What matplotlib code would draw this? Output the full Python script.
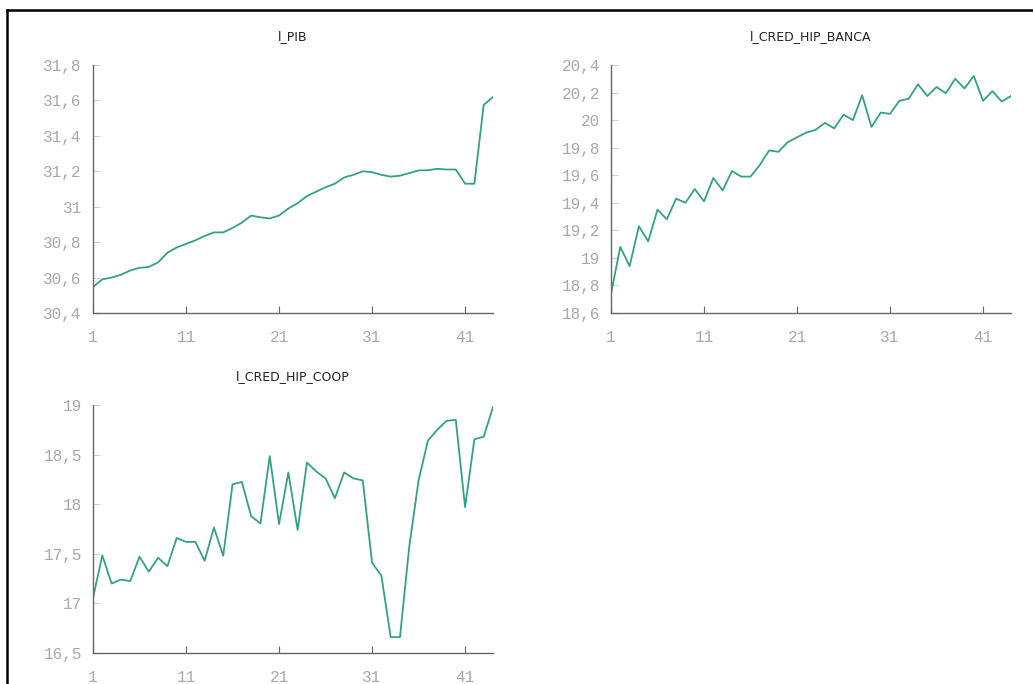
import numpy as np
import matplotlib.pyplot as plt
from matplotlib.lines import Line2D
from matplotlib.ticker import FuncFormatter

# datos (estimados del grafico)
periodos = list(range(1, 45))

l_pib = [30.547, 30.59, 30.60, 30.616, 30.64, 30.655, 30.66, 30.686, 30.74, 30.77,
         30.79, 30.81, 30.835, 30.855, 30.855, 30.88, 30.91, 30.95, 30.94, 30.934,
         30.95, 30.99, 31.02, 31.06, 31.085, 31.11, 31.13, 31.165, 31.18, 31.20,
         31.195, 31.18, 31.17, 31.175, 31.19, 31.205, 31.206, 31.214, 31.21, 31.21,
         31.13, 31.13, 31.575, 31.62]

l_cred_hip_banca = [18.74, 19.08, 18.94, 19.23, 19.12, 19.35, 19.28, 19.43, 19.40, 19.50,
                    19.41, 19.58, 19.49, 19.63, 19.59, 19.59, 19.675, 19.78, 19.77, 19.84,
                    19.875, 19.91, 19.93, 19.98, 19.94, 20.04, 20.00, 20.18, 19.95, 20.055,
                    20.045, 20.14, 20.155, 20.26, 20.175, 20.24, 20.195, 20.30, 20.23, 20.32,
                    20.14, 20.21, 20.135, 20.175]

l_cred_hip_coop = [17.055, 17.485, 17.20, 17.24, 17.225, 17.47, 17.32, 17.46, 17.375, 17.66,
                   17.62, 17.62, 17.43, 17.765, 17.48, 18.20, 18.225, 17.88, 17.805, 18.485,
                   17.80, 18.32, 17.74, 18.42, 18.33, 18.26, 18.06, 18.32, 18.26, 18.24,
                   17.41, 17.28, 16.66, 16.66, 17.575, 18.24, 18.64, 18.75, 18.84, 18.85,
                   17.97, 18.655, 18.68, 18.98]

xticks = [1, 11, 21, 31, 41]

W, H = 1033, 684
color_linea = '#35a088'
gris = '#666666'

fig = plt.figure(figsize=(W / 100, H / 100), dpi=100)


def px_axes(left, top, right, bottom):
    return fig.add_axes([left / W, 1 - bottom / H, (right - left) / W, (bottom - top) / H])


def coma(v, pos):
    return ('%g' % round(v, 4)).replace('.', ',')


def panel(ax, y, titulo, ylim, yticks):
    ax.plot(periodos, y, color=color_linea, linewidth=1.3)
    ax.set_xlim(1, 44)
    ax.set_ylim(*ylim)
    ax.set_xticks(xticks)
    ax.set_yticks(yticks)
    ax.yaxis.set_major_formatter(FuncFormatter(coma))
    ax.set_title(titulo, fontsize=9, color='#222222', pad=18)
    for s in ['top', 'right']:
        ax.spines[s].set_visible(False)
    for s in ['left', 'bottom']:
        ax.spines[s].set_color(gris)
        ax.spines[s].set_linewidth(1.0)
    ax.tick_params(direction='in', length=5, color=gris, labelcolor='#a8a8a8',
                   labelsize=11.5)
    ax.tick_params(axis='y', color='#d0d0d0', pad=8)
    ax.tick_params(axis='x', pad=12)
    for lab in ax.get_xticklabels() + ax.get_yticklabels():
        lab.set_family('Liberation Mono')


ax1 = px_axes(93, 65, 493, 313)
panel(ax1, l_pib, 'l_PIB', (30.4, 31.8), np.arange(30.4, 31.81, 0.2))

ax2 = px_axes(611, 65, 1011, 313)
panel(ax2, l_cred_hip_banca, 'l_CRED_HIP_BANCA', (18.6, 20.4), np.arange(18.6, 20.41, 0.2))

ax3 = px_axes(93, 405, 493, 653)
panel(ax3, l_cred_hip_coop, 'l_CRED_HIP_COOP', (16.5, 19), np.arange(16.5, 19.01, 0.5))

# marco de la captura
fig.add_artist(Line2D([7 / W, 1], [1 - 10 / H, 1 - 10 / H], color='black', linewidth=1.8,
                      transform=fig.transFigure))
fig.add_artist(Line2D([7 / W, 7 / W], [0, 1 - 10 / H], color='black', linewidth=1.8,
                      transform=fig.transFigure))

fig.savefig('out.png', dpi=100)
